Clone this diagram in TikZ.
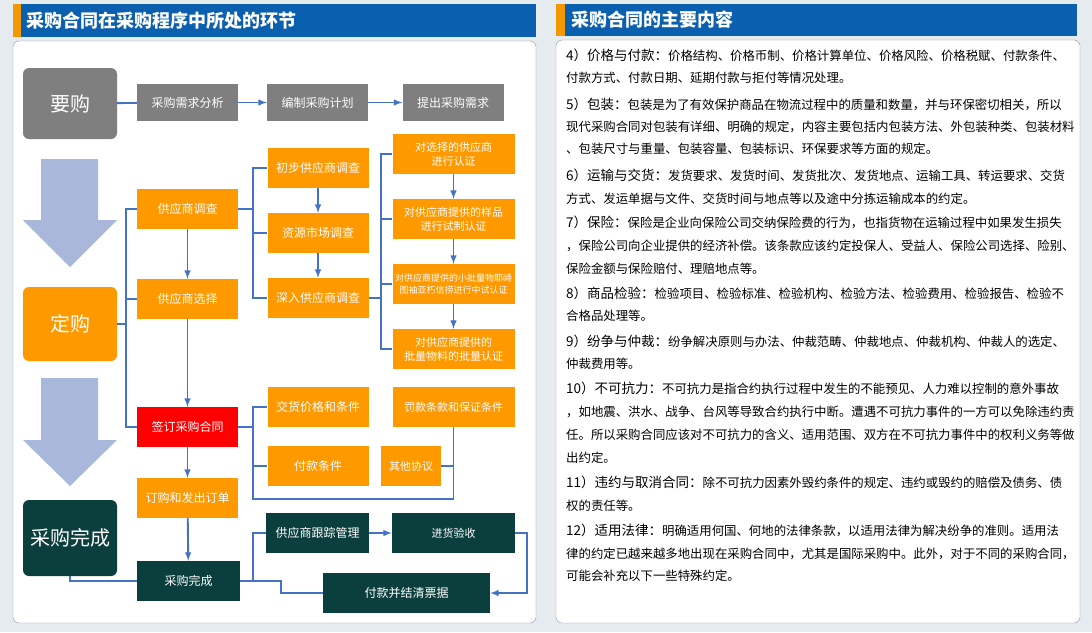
\documentclass[tikz,border=0pt]{standalone}
\usepackage{fontspec}
\newfontfamily\cjk{Noto Sans CJK SC}
\usepackage{tikz}
\usetikzlibrary{
  calc,%
  arrows,
  positioning
}
\tikzset{>=latex}
\definecolor{hdblue}{HTML}{0A5FAE}
\definecolor{hdorange}{HTML}{F39800}
\definecolor{boxgray}{HTML}{7F7F7F}
\definecolor{boxorange}{HTML}{FF9900}
\definecolor{boxred}{HTML}{FF0000}
\definecolor{boxdark}{HTML}{0B3F3D}
\definecolor{linkblue}{HTML}{4472C4}
\definecolor{bigarrow}{HTML}{A9B8DA}
\definecolor{panelline}{HTML}{8797AE}
\definecolor{pagebg}{HTML}{E6EBEF}
\tikzset{
  box/.style={rectangle, inner sep=0pt, text=white, align=center,
    font=\cjk\fontsize{12}{14}\selectfont},
  greybox/.style={box, fill=boxgray},
  orangebox/.style={box, fill=boxorange},
  redbox/.style={box, fill=boxred},
  darkbox/.style={box, fill=boxdark},
  stage/.style={box, rounded corners=6pt, minimum width=94pt,
    font=\cjk\fontsize{20}{24}\selectfont},
  midsize/.style={minimum width=101pt, minimum height=40pt},
  widesize/.style={minimum width=122pt, minimum height=40pt},
  smalltext/.style={font=\cjk\fontsize{11}{14}\selectfont},
  link/.style={draw=linkblue, line width=1.9pt},
  header/.style={anchor=west, inner sep=0pt, text=white,
    font=\cjk\bfseries\fontsize{18}{20}\selectfont},
  textline/.style={anchor=west, inner sep=0pt, text=black,
    font=\cjk\fontsize{12.4}{15}\selectfont}
}
\newcommand\partlbl[1]{{\fontsize{13.5}{15}\selectfont #1}}

\begin{document}
\begin{tikzpicture}[x=1pt, y=-1pt]
  \useasboundingbox (0,0) rectangle (1092,632);
  \fill[pagebg] (0,0) rectangle (1092,632);

  % headers and panels
  \fill[hdblue] (13,4) rectangle (536,37);
  \fill[hdorange] (13,4) rectangle (21,37);
  \node[header] (titleL) at (26,20.5) {采购合同在采购程序中所处的环节};
  \fill[hdblue] (556,4) rectangle (1077,36);
  \fill[hdorange] (556,4) rectangle (565,36);
  \node[header] (titleR) at (571,20) {采购合同的主要内容};
  \draw[panelline, fill=white, rounded corners=6pt] (13,41) rectangle (536,623);
  \draw[panelline, fill=white, rounded corners=6pt] (556,40) rectangle (1080,623);

  % big arrows between stages
  \fill[bigarrow] (41,159) -- (98,159) -- (98,220) -- (117,220) -- (70,267)
    -- (23,220) -- (41,220) -- cycle;
  \fill[bigarrow] (41,378) -- (98,378) -- (98,440) -- (117,440) -- (70,486)
    -- (23,440) -- (41,440) -- cycle;

  % stages
  \node[stage, fill=boxgray, minimum height=71pt] (yaogou) at (70,103.5) {要购};
  \node[stage, fill=boxorange, minimum height=74pt] (dinggou) at (70,324) {定购};
  \node[stage, fill=boxdark, minimum height=76pt] (wancheng) at (70,538) {采购完成};

  % first row
  \node[greybox, midsize, minimum height=37pt] (xqfx) at (187.5,102.5) {采购需求分析};
  \node[greybox, midsize, minimum height=37pt] (bzjh) at (317.5,102.5) {编制采购计划};
  \node[greybox, midsize, minimum height=37pt] (tcxq) at (453,102.5) {提出采购需求};

  % main column
  \node[orangebox, midsize] (gysdc) at (187.5,209) {供应商调查};
  \node[orangebox, midsize] (gysxz) at (187.5,299) {供应商选择};
  \node[redbox, midsize] (qdht) at (187.5,427) {签订采购合同};
  \node[orangebox, midsize] (dgfd) at (187.5,498) {订购和发出订单};
  \node[darkbox, midsize, minimum width=103pt] (cgwc) at (188.5,581) {采购完成};

  % supplier survey
  \node[orangebox, midsize] (cbdc) at (318,168) {初步供应商调查};
  \node[orangebox, midsize] (zydc) at (318,233) {资源市场调查};
  \node[orangebox, midsize] (srdc) at (318,298) {深入供应商调查};

  % supplier certification
  \node[orangebox, widesize, smalltext] (rz1) at (453.5,154) {对选择的供应商\\进行认证};
  \node[orangebox, widesize, smalltext] (rz2) at (453.5,219) {对供应商提供的样品\\进行试制认证};
  \node[orangebox, widesize, font=\cjk\fontsize{9}{12.5}\selectfont] (rz3) at (453.5,284)
    {对供应商提供的小批量物耶峙\\图袖亚朽信捞进行中试认证};
  \node[orangebox, widesize, smalltext] (rz4) at (453.5,349) {对供应商提供的\\批量物料的批量认证};

  % contract terms
  \node[orangebox, midsize] (jhjg) at (318,407) {交货价格和条件};
  \node[orangebox, widesize, smalltext] (fktk) at (453.5,407) {罚款条款和保证条件};
  \node[orangebox, midsize] (fktj) at (318,466) {付款条件};
  \node[orangebox, minimum width=60pt, minimum height=40pt, smalltext] (qtxy) at (411,466) {其他协议};

  % completion
  \node[darkbox, midsize, minimum width=103pt] (gzgl) at (317.5,533) {供应商跟踪管理};
  \node[darkbox, widesize, minimum width=123pt, smalltext] (jhys) at (453.5,533) {进货验收};
  \node[darkbox, minimum width=167pt, minimum height=40pt] (fkjq) at (406.5,593) {付款并结清票据};

  % trunks of the brackets
  \coordinate (trunkA) at (126,0);
  \coordinate (trunkB) at (253,0);
  \coordinate (trunkC) at (381,0);
  \coordinate (trunkE) at (527,0);
  \coordinate (bend) at (281,0);
  \coordinate (bot) at (0,499);

  \draw[link] (yaogou) -- (xqfx);
  \draw[link, ->] (xqfx) -- (bzjh);
  \draw[link, ->] (bzjh) -- (tcxq);

  \draw[link] (gysdc.west) -- (gysdc.west -| trunkA) -- (qdht.west -| trunkA) -- (qdht.west);
  \draw[link] (gysxz.west) -- (gysxz.west -| trunkA);
  \draw[link] (dinggou.east) -- (dinggou.east -| trunkA);
  \draw[link, ->] (gysdc) -- (gysxz);
  \draw[link, ->] (gysxz) -- (qdht);
  \draw[link, ->] (qdht) -- (dgfd);
  \draw[link, ->] (dgfd) -- (cgwc);

  \draw[link] (gysdc.east) -- (gysdc.east -| trunkB);
  \draw[link] (cbdc.west) -- (cbdc.west -| trunkB) -- (srdc.west -| trunkB) -- (srdc.west);
  \draw[link] (zydc.west) -- (zydc.west -| trunkB);
  \draw[link, ->] (cbdc) -- (zydc);
  \draw[link, ->] (zydc) -- (srdc);

  \draw[link] (srdc.east) -- (srdc.east -| trunkC);
  \draw[link] (rz1.west) -- (rz1.west -| trunkC) -- (rz4.west -| trunkC) -- (rz4.west);
  \draw[link] (rz2.west) -- (rz2.west -| trunkC);
  \draw[link] (rz3.west) -- (rz3.west -| trunkC);
  \draw[link, ->] (rz1) -- (rz2);
  \draw[link, ->] (rz2) -- (rz3);
  \draw[link, ->] (rz3) -- (rz4);

  \draw[link] (qdht.east) -- (qdht.east -| trunkB);
  \draw[link] (jhjg.west) -- (jhjg.west -| trunkB) -- (trunkB |- bot)
    -- (fktk.south |- bot) -- (fktk.south);
  \draw[link] (fktj.west) -- (fktj.west -| trunkB);
  \draw[link] (qtxy.east) -- (qtxy.east -| fktk.south);

  \draw[link] (wancheng.south) |- (cgwc.west);
  \draw[link] (cgwc.east) -- (cgwc.east -| trunkB) |- (gzgl.west);
  \draw[link] (cgwc.east -| trunkB) -- (cgwc.east -| bend) |- (fkjq.west);
  \draw[link, ->] (gzgl) -- (jhys);
  \draw[link, ->] (jhys.east) -- (jhys.east -| trunkE) |- (fkjq.east);

  % main contents of the contract
  \foreach \y/\t [count=\i] in {
    55/{\partlbl{4）价格与付款：}价格结构、价格币制、价格计算单位、价格风险、价格税赋、付款条件、},
    78/{付款方式、付款日期、延期付款与拒付等情况处理。},
    104/{\partlbl{5）包装：}包装是为了有效保护商品在物流过程中的质量和数量，并与环保密切相关，所以},
    127/{现代采购合同对包装有详细、明确的规定，内容主要包括内包装方法、外包装种类、包装材料},
    149/{、包装尺寸与重量、包装容量、包装标识、环保要求等方面的规定。},
    175/{\partlbl{6）运输与交货：}发货要求、发货时间、发货批次、发货地点、运输工具、转运要求、交货},
    199/{方式、发运单据与文件、交货时间与地点等以及途中分拣运输成本的约定。},
    222/{\partlbl{7）保险：}保险是企业向保险公司交纳保险费的行为，也指货物在运输过程中如果发生损失},
    246/{，保险公司向企业提供的经济补偿。该条款应该约定投保人、受益人、保险公司选择、险别、},
    269/{保险金额与保险赔付、理赔地点等。},
    293/{\partlbl{8）商品检验：}检验项目、检验标准、检验机构、检验方法、检验费用、检验报告、检验不},
    316/{合格品处理等。},
    341/{\partlbl{9）纷争与仲裁：}纷争解决原则与办法、仲裁范畴、仲裁地点、仲裁机构、仲裁人的选定、},
    364/{仲裁费用等。},
    388/{\partlbl{10）不可抗力：}不可抗力是指合约执行过程中发生的不能预见、人力难以控制的意外事故},
    412/{，如地震、洪水、战争、台风等导致合约执行中断。遭遇不可抗力事件的一方可以免除违约责},
    435/{任。所以采购合同应该对不可抗力的含义、适用范围、双方在不可抗力事件中的权利义务等做},
    458/{出约定。},
    482/{\partlbl{11）违约与取消合同：}除不可抗力因素外毁约条件的规定、违约或毁约的赔偿及债务、债},
    506/{权的责任等。},
    530/{\partlbl{12）适用法律：}明确适用何国、何地的法律条款，以适用法律为解决纷争的准则。适用法},
    554/{律的约定已越来越多地出现在采购合同中，尤其是国际采购中。此外，对于不同的采购合同，},
    576/{可能会补充以下一些特殊约定。}}
    \node[textline] (line\i) at (566,\y) {\t};
\end{tikzpicture}
\end{document}
